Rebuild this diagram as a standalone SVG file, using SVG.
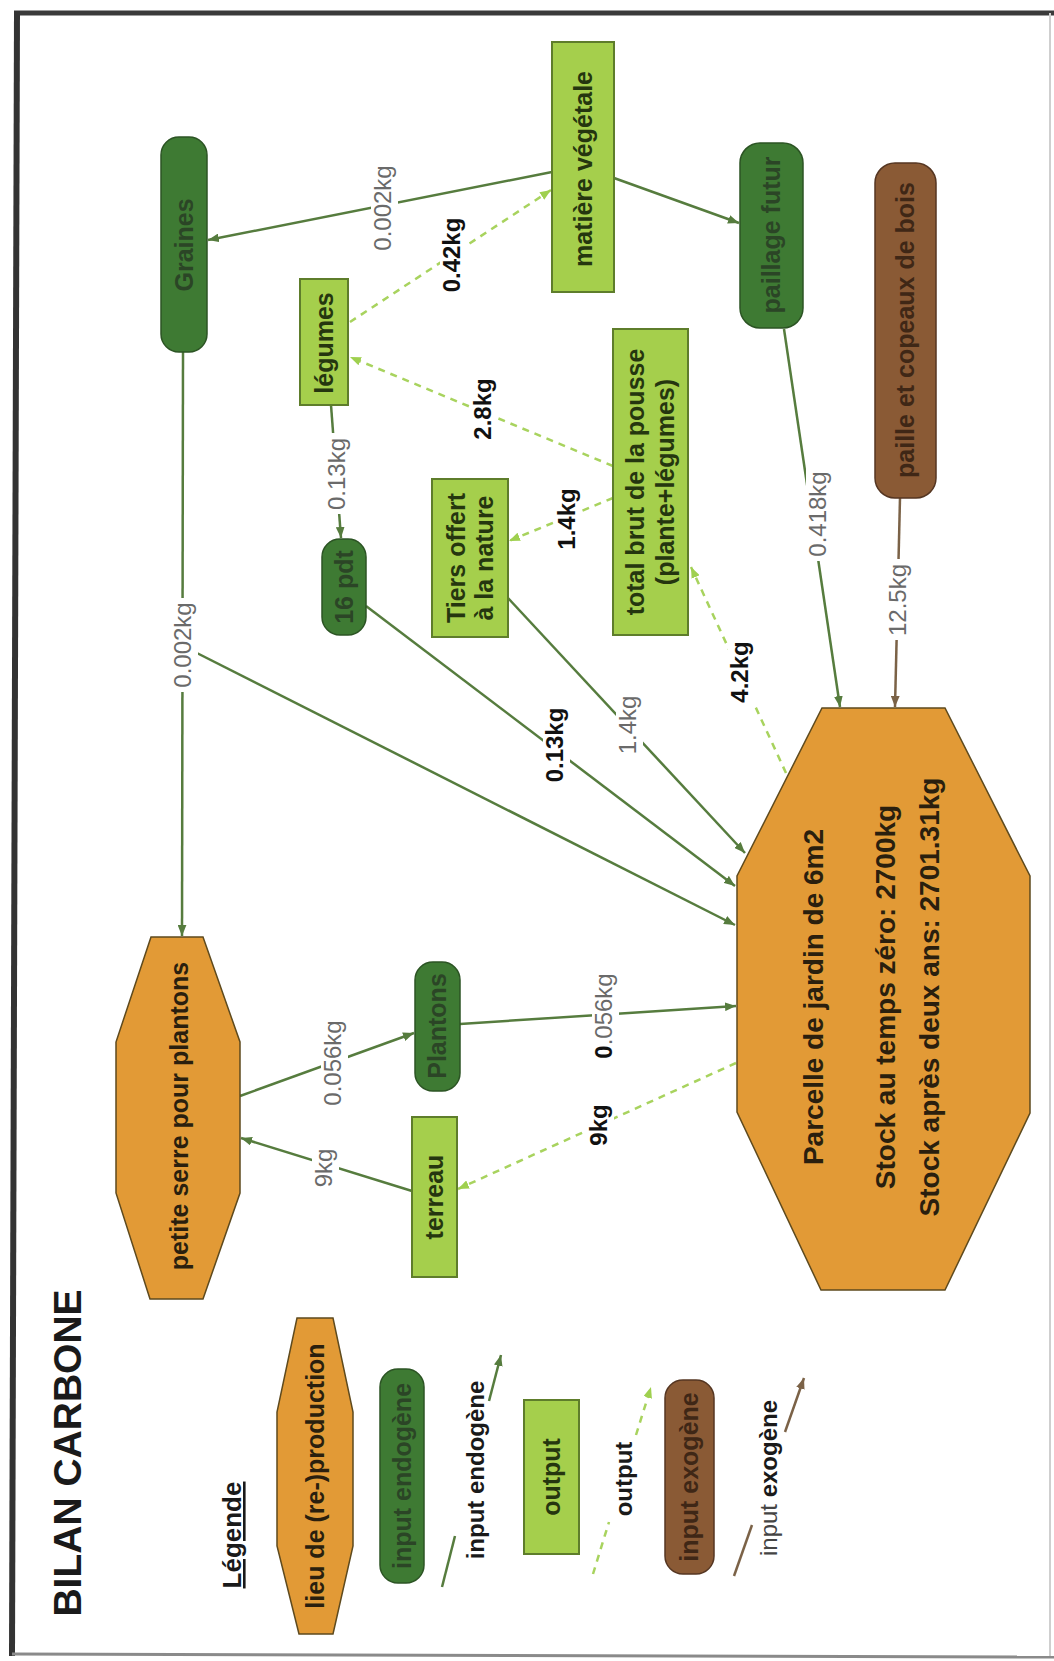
<svg xmlns="http://www.w3.org/2000/svg" width="1054" height="1661" viewBox="0 0 1054 1661">
  <defs>
    <style>
      .t { font-family: "Liberation Sans", Arial, sans-serif; font-weight: bold; font-size: 25px; text-anchor: middle; }
      .big { font-size: 28px; }
      .title { font-size: 39px; fill: #1a1a1a; }
      .head { font-size: 26px; fill: #1a1a1a; text-decoration: underline; }
      .key { font-size: 24px; fill: #1a1a1a; }
      .dg { fill: #3e7a33; stroke: #2c5424; stroke-width: 1.5; }
      .lg { fill: #a5cf4c; stroke: #5e7d2b; stroke-width: 2; }
      .or { fill: #e29a36; stroke: #5e4a1e; stroke-width: 1.5; }
      .br { fill: #8a5a35; stroke: #553622; stroke-width: 1.5; }
      .dgt { fill: #2b4526; }
      .lgt { fill: #25360f; }
      .ort { fill: #2a1f0e; }
      .brt { fill: #3f2716; }
      .e { fill: none; stroke: #567c3e; stroke-width: 2.5; }
      .ea { marker-end: url(#ag); }
      .o { fill: none; stroke: #a8d35e; stroke-width: 2.5; stroke-dasharray: 7 6; }
      .oa { marker-end: url(#al); }
      .x { fill: none; stroke: #7b6247; stroke-width: 2.5; }
      .xa { marker-end: url(#ab); }
      .bg { fill: #ffffff; }
      .lg-gray { font-family: "Liberation Sans", Arial, sans-serif; font-size: 24px; fill: #6a6a6a; text-anchor: middle; }
      .lg-black { font-family: "Liberation Sans", Arial, sans-serif; font-size: 24px; font-weight: bold; fill: #111111; text-anchor: middle; }
    </style>
    <marker id="ag" viewBox="0 0 10 8" refX="10" refY="4" markerWidth="11" markerHeight="9" markerUnits="userSpaceOnUse" orient="auto">
      <path d="M0,0 L10,4 L0,8 z" fill="#567c3e"/>
    </marker>
    <marker id="al" viewBox="0 0 10 8" refX="10" refY="4" markerWidth="11" markerHeight="9" markerUnits="userSpaceOnUse" orient="auto">
      <path d="M0,0 L10,4 L0,8 z" fill="#9fd04f"/>
    </marker>
    <marker id="ab" viewBox="0 0 10 8" refX="10" refY="4" markerWidth="11" markerHeight="9" markerUnits="userSpaceOnUse" orient="auto">
      <path d="M0,0 L10,4 L0,8 z" fill="#7b6247"/>
    </marker>
  </defs>

  <rect x="0" y="0" width="1054" height="1661" fill="#ffffff"/>

  <!-- page frame -->
  <g id="frame" fill="none">
    <line x1="14" y1="13" x2="1054" y2="13" stroke="#3a3a3a" stroke-width="5"/>
    <line x1="17" y1="11" x2="12" y2="1656" stroke="#333333" stroke-width="6"/>
    <line x1="12" y1="1654" x2="1054" y2="1657" stroke="#8a8a8a" stroke-width="3"/>
    <line x1="1050" y1="13" x2="1050" y2="1656" stroke="#cfcfcf" stroke-width="2"/>
  </g>

  <!-- connectors -->
  <g id="connectors">
    <line class="e ea" x1="552" y1="172" x2="208" y2="240"/>
    <line class="e ea" x1="614" y1="178" x2="739" y2="223"/>
    <line class="o oa" x1="350" y1="322" x2="551" y2="190"/>
    <line class="o oa" x1="613" y1="466" x2="350" y2="357"/>
    <line class="o oa" x1="613" y1="498" x2="509" y2="541"/>
    <line class="e ea" x1="331" y1="405" x2="341" y2="538"/>
    <line class="e ea" x1="183" y1="352" x2="182" y2="936"/>
    <line class="e ea" x1="183" y1="646" x2="735" y2="925"/>
    <line class="e ea" x1="366" y1="606" x2="735" y2="886"/>
    <line class="e ea" x1="508" y1="598" x2="745" y2="853"/>
    <line class="o oa" x1="786" y1="773" x2="691" y2="567"/>
    <line class="e ea" x1="784" y1="329" x2="840" y2="707"/>
    <line class="x xa" x1="900" y1="498" x2="895" y2="707"/>
    <line class="e ea" x1="240" y1="1096" x2="414" y2="1033"/>
    <line class="e ea" x1="460" y1="1024" x2="736" y2="1006"/>
    <line class="e ea" x1="412" y1="1191" x2="241" y2="1138"/>
    <line class="o oa" x1="736" y1="1063" x2="458" y2="1189"/>
  </g>

  <!-- connector labels -->
  <g id="connector-labels">
    <rect class="bg" x="371" y="161" width="27" height="94"/>
    <text class="lg-gray" transform="translate(391,208) rotate(-90)">0.002kg</text>
    <rect class="bg" x="440" y="214" width="27" height="82"/>
    <text class="lg-black" transform="translate(460,255) rotate(-90)">0.42kg</text>
    <rect class="bg" x="471" y="375" width="27" height="68"/>
    <text class="lg-black" transform="translate(491,409) rotate(-90)">2.8kg</text>
    <rect class="bg" x="325" y="433" width="27" height="81"/>
    <text class="lg-gray" transform="translate(345,474) rotate(-90)">0.13kg</text>
    <rect class="bg" x="555" y="485" width="27" height="68"/>
    <text class="lg-black" transform="translate(575,519) rotate(-90)">1.4kg</text>
    <rect class="bg" x="171" y="598" width="27" height="94"/>
    <text class="lg-gray" transform="translate(191,645) rotate(-90)">0.002kg</text>
    <rect class="bg" x="543" y="704" width="27" height="81"/>
    <text class="lg-black" transform="translate(563,745) rotate(-90)">0.13kg</text>
    <rect class="bg" x="616" y="691" width="27" height="68"/>
    <text class="lg-gray" transform="translate(636,725) rotate(-90)">1.4kg</text>
    <rect class="bg" x="728" y="638" width="27" height="68"/>
    <text class="lg-black" transform="translate(748,672) rotate(-90)">4.2kg</text>
    <rect class="bg" x="806" y="467" width="27" height="94"/>
    <text class="lg-gray" transform="translate(826,514) rotate(-90)">0.418kg</text>
    <rect class="bg" x="886" y="559" width="27" height="81"/>
    <text class="lg-gray" transform="translate(906,600) rotate(-90)">12.5kg</text>
    <rect class="bg" x="321" y="1016" width="27" height="94"/>
    <text class="lg-gray" transform="translate(341,1063) rotate(-90)">0.056kg</text>
    <rect class="bg" x="592" y="969" width="27" height="94"/>
    <text class="lg-gray" transform="translate(612,1016) rotate(-90)"><tspan fill="#111111" font-weight="bold">0</tspan>.056kg</text>
    <rect class="bg" x="312" y="1144" width="27" height="48"/>
    <text class="lg-gray" transform="translate(332,1168) rotate(-90)">9kg</text>
    <rect class="bg" x="587" y="1101" width="27" height="48"/>
    <text class="lg-black" transform="translate(607,1125) rotate(-90)">9kg</text>
  </g>

  <!-- nodes -->
  <g id="n-graines">
    <rect class="dg" x="161" y="137" width="46" height="215" rx="18"/>
    <text class="t dgt" transform="translate(193,245) rotate(-90)">Graines</text>
  </g>
  <g id="n-matiere">
    <rect class="lg" x="552" y="42" width="62" height="250"/>
    <text class="t lgt" transform="translate(592,169) rotate(-90)">matière végétale</text>
  </g>
  <g id="n-paillage">
    <rect class="dg" x="740" y="143" width="63" height="185" rx="20"/>
    <text class="t dgt" transform="translate(780,235) rotate(-90)">paillage futur</text>
  </g>
  <g id="n-paille">
    <rect class="br" x="875" y="163" width="61" height="335" rx="20"/>
    <text class="t brt" transform="translate(914,330) rotate(-90)">paille et copeaux de bois</text>
  </g>
  <g id="n-legumes">
    <rect class="lg" x="300" y="279" width="48" height="126"/>
    <text class="t lgt" transform="translate(333,343) rotate(-90)">légumes</text>
  </g>
  <g id="n-total">
    <rect class="lg" x="613" y="329" width="75" height="306"/>
    <text class="t lgt" transform="translate(644,482) rotate(-90)">total brut de la pousse</text>
    <text class="t lgt" transform="translate(674,482) rotate(-90)">(plante+légumes)</text>
  </g>
  <g id="n-tiers">
    <rect class="lg" x="432" y="479" width="76" height="158"/>
    <text class="t lgt" transform="translate(465,558) rotate(-90)">Tiers offert</text>
    <text class="t lgt" transform="translate(493,558) rotate(-90)">à la nature</text>
  </g>
  <g id="n-pdt">
    <rect class="dg" x="322" y="539" width="44" height="96" rx="18"/>
    <text class="t dgt" transform="translate(353,587) rotate(-90)">16 pdt</text>
  </g>
  <g id="n-parcelle">
    <polygon class="or" points="822,708 945,708 1030,876 1030,1113 945,1290 821,1290 737,1112 737,876"/>
    <text class="t big ort" transform="translate(823,997) rotate(-90)">Parcelle de jardin de 6m2</text>
    <text class="t big ort" transform="translate(895,997) rotate(-90)">Stock au temps zéro: 2700kg</text>
    <text class="t big ort" transform="translate(939,997) rotate(-90)">Stock après deux ans: 2701.31kg</text>
  </g>
  <g id="n-serre">
    <polygon class="or" points="151,937 203,937 240,1042 240,1193 203,1299 150,1299 116,1193 116,1042"/>
    <text class="t ort" transform="translate(188,1116) rotate(-90)">petite serre pour plantons</text>
  </g>
  <g id="n-plantons">
    <rect class="dg" x="415" y="962" width="45" height="129" rx="18"/>
    <text class="t dgt" transform="translate(446,1026) rotate(-90)">Plantons</text>
  </g>
  <g id="n-terreau">
    <rect class="lg" x="412" y="1117" width="45" height="160"/>
    <text class="t lgt" transform="translate(443,1197) rotate(-90)">terreau</text>
  </g>

  <!-- title and legend -->
  <g id="title">
    <text class="t title" transform="translate(81,1453) rotate(-90)">BILAN CARBONE</text>
  </g>
  <g id="legend">
    <text class="t head" transform="translate(241,1535) rotate(-90)">Légende</text>

    <g id="legend-lieu">
      <polygon class="or" points="297,1318 333,1318 353,1412 353,1546 333,1634 299,1634 277,1546 277,1412"/>
      <text class="t ort" transform="translate(324,1476) rotate(-90)">lieu de (re-)production</text>
    </g>
    <g id="legend-endogene">
      <rect class="dg" x="380" y="1369" width="44" height="214" rx="18"/>
      <text class="t dgt" transform="translate(411,1476) rotate(-90)">input endogène</text>
    </g>
    <g id="legend-endogene-arrow">
      <line class="e" x1="442" y1="1587" x2="455" y2="1536"/>
      <line class="e ea" x1="489" y1="1401" x2="501" y2="1355"/>
      <text class="t key" transform="translate(484,1470) rotate(-90)">input endogène</text>
    </g>
    <g id="legend-output">
      <rect class="lg" x="524" y="1400" width="55" height="154"/>
      <text class="t lgt" transform="translate(560,1477) rotate(-90)">output</text>
    </g>
    <g id="legend-output-arrow">
      <line class="o" x1="593" y1="1574" x2="609" y2="1522"/>
      <line class="o oa" x1="636" y1="1435" x2="651" y2="1387"/>
      <text class="t key" transform="translate(632,1479) rotate(-90)">output</text>
    </g>
    <g id="legend-exogene">
      <rect class="br" x="665" y="1380" width="49" height="194" rx="18"/>
      <text class="t brt" transform="translate(698,1477) rotate(-90)">input exogène</text>
    </g>
    <g id="legend-exogene-arrow">
      <line class="x" x1="734" y1="1576" x2="752" y2="1525"/>
      <line class="x xa" x1="785" y1="1432" x2="804" y2="1378"/>
      <text class="t key" transform="translate(777,1478) rotate(-90)"><tspan font-weight="normal" fill="#444444">input</tspan> exogène</text>
    </g>
  </g>
</svg>
